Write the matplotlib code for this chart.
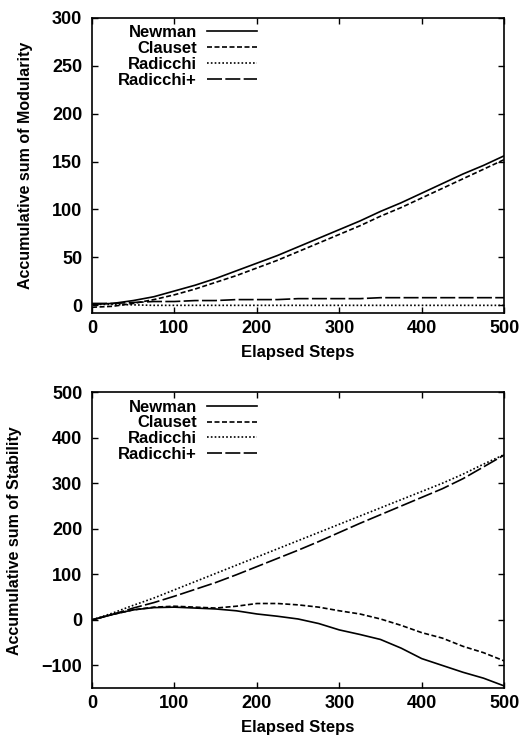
"""
Cumulative modularity / stability curves for four community detection methods.
"""

import matplotlib
matplotlib.use("Agg")
import matplotlib.pyplot as plt

steps = [0, 25, 50, 75, 100, 125, 150, 175, 200, 225, 250,
         275, 300, 325, 350, 375, 400, 425, 450, 475, 500]

# top panel: accumulative sum of modularity
mod_newman = [1, 2, 5, 9, 15, 21, 28, 36, 44, 52, 61,
              70, 79, 88, 98, 107, 117, 127, 137, 146, 156]
mod_clauset = [-2, -1, 2, 6, 11, 17, 24, 31, 39, 47, 56,
               65, 74, 83, 93, 102, 112, 122, 132, 142, 152]
mod_radicchi = [1, 1, 0.5, 0, 0, 0, 0, 0, 0, 0, 0,
                0, 0, 0, 0, 0, 0, 0, 0, 0, 0]
mod_radicchi_plus = [2, 2, 3, 4, 4, 5, 5, 6, 6, 6, 7,
                     7, 7, 7, 8, 8, 8, 8, 8, 8, 8]

# bottom panel: accumulative sum of stability
stab_newman = [0, 12, 22, 27, 28, 26, 24, 20, 13, 8, 2,
               -8, -22, -32, -43, -62, -85, -100, -115, -128, -145]
stab_clauset = [0, 12, 22, 28, 30, 28, 26, 30, 36, 36, 33,
                28, 20, 13, 2, -12, -28, -40, -58, -72, -90]
stab_radicchi = [0, 15, 32, 48, 66, 84, 102, 120, 138, 156, 174,
                 192, 210, 228, 246, 264, 282, 300, 320, 342, 363]
stab_radicchi_plus = [0, 12, 26, 38, 52, 67, 82, 99, 117, 135, 153,
                      172, 192, 212, 231, 250, 269, 288, 310, 336, 362]

labels = ["Newman", "Clauset", "Radicchi", "Radicchi+"]
styles = ["-", (0, (3, 1.5)), (0, (1, 1.3)), (0, (9, 2))]

plt.rcParams["font.family"] = ["Liberation Sans", "DejaVu Sans"]
plt.rcParams["font.weight"] = "bold"

fig = plt.figure(figsize=(5.29, 7.40), dpi=100)
ax_top = fig.add_axes([0.174, 0.577, 0.779, 0.399])
ax_bot = fig.add_axes([0.174, 0.070, 0.779, 0.400])

panels = [
    (ax_top, [mod_newman, mod_clauset, mod_radicchi, mod_radicchi_plus],
     "Accumulative sum of Modularity", (-8, 300), range(0, 301, 50)),
    (ax_bot, [stab_newman, stab_clauset, stab_radicchi, stab_radicchi_plus],
     "Accumulative sum of Stability", (-150, 500), range(-100, 501, 100)),
]

for ax, series, ylabel, ylim, yticks in panels:
    for values, label, ls in zip(series, labels, styles):
        ax.plot(steps, values, color="black", linestyle=ls, linewidth=1.2, label=label)
    ax.set_xlim(0, 500)
    ax.set_ylim(*ylim)
    ax.set_xticks(range(0, 501, 100))
    ax.set_yticks(list(yticks))
    ax.tick_params(direction="in", top=True, right=True, length=4, width=1,
                   labelsize=13)
    ax.tick_params(axis="y", pad=7)
    ax.tick_params(axis="x", pad=5)
    for spine in ax.spines.values():
        spine.set_linewidth(1.2)
    ax.set_xlabel("Elapsed Steps", fontsize=12, fontweight="bold", labelpad=6)
    ax.set_ylabel(ylabel, fontsize=11.5, fontweight="bold", labelpad=14)
    ax.legend(loc="upper right", bbox_to_anchor=(0.40, 0.975), frameon=False,
              markerfirst=False, fontsize=12, handlelength=3.0,
              handletextpad=0.6, labelspacing=0.05, borderpad=0,
              borderaxespad=0)

fig.savefig("out.png", dpi=100)
